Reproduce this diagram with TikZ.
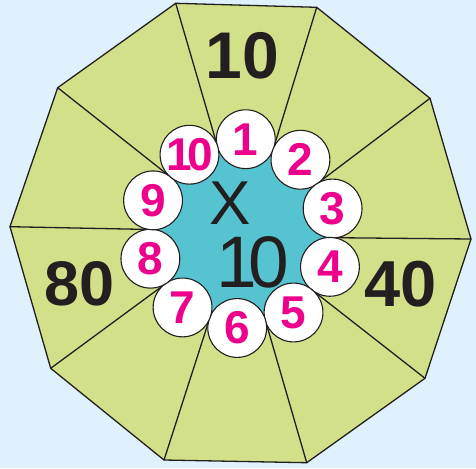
\documentclass[tikz,border=0pt]{standalone}
\usepackage{fontspec}
\setmainfont{Liberation Sans}
\usetikzlibrary{calc}
\definecolor{bgc}{RGB}{223,241,252}
\definecolor{leaf}{RGB}{210,224,138}
\definecolor{cyanc}{RGB}{86,196,208}
\definecolor{magc}{RGB}{236,0,140}
\definecolor{ink}{RGB}{35,31,32}
\tikzset{
  edge/.style={draw=ink,line width=1.3pt,line join=round,line cap=round},
  numcirc/.style={circle,draw=ink,line width=1.1pt,fill=white,inner sep=0pt,
    minimum size=58.8pt,text=magc,font=\bfseries\fontsize{46}{46}\selectfont},
  biglabel/.style={inner sep=0pt,text=ink,font=\bfseries\fontsize{65}{65}\selectfont},
  midlabel/.style={inner sep=0pt,text=ink}
}
\begin{document}
\begin{tikzpicture}[x=1pt,y=-1pt]
\fill[bgc] (0,0) rectangle (476,468);
\useasboundingbox (0,0) rectangle (476,468);
\coordinate (C) at (241.5,233.6);
\coordinate (O1) at (175.7,3.3);
\coordinate (O2) at (316.7,7.3);
\coordinate (O3) at (430,98.3);
\coordinate (O4) at (471,239);
\coordinate (O5) at (425,378.3);
\coordinate (O6) at (306.7,462.7);
\coordinate (O7) at (164,460);
\coordinate (O8) at (50.7,368.3);
\coordinate (O9) at (10,226.7);
\coordinate (O10) at (57.7,87.7);
\fill[leaf] (O1)--(O2)--(O3)--(O4)--(O5)--(O6)--(O7)--(O8)--(O9)--(O10)--cycle;
\draw[edge] (O1)--(O2)--(O3)--(O4)--(O5)--(O6)--(O7)--(O8)--(O9)--(O10)--cycle;
\foreach \k in {1,...,10}{
  \coordinate (p\k) at ($(C)+({105.4-36*(\k-1)}:89.9pt)$);
}
\foreach \k in {1,...,10}{
  \draw[edge] (O\k) -- (p\k);
}
\fill[cyanc] (p1)--(p2)--(p3)--(p4)--(p5)--(p6)--(p7)--(p8)--(p9)--(p10)--cycle;
\foreach \k in {1,...,9}{
  \node[numcirc] (c\k) at ($(C)+({87.4-36*(\k-1)}:94.5pt)$) {\k};
}
\node[numcirc] (c10) at ($(C)+({87.4-36*9}:94.5pt)$) {1\kern-0.1em 0};
\node[midlabel,font=\fontsize{62}{62}\selectfont] (times) at (230,203) {X};
\node[midlabel,font=\fontsize{73}{73}\selectfont] (ten) at (253,262) {1\kern-0.12em 0};
\node[biglabel,font=\bfseries\fontsize{66}{66}\selectfont] (l10) at (242.7,55.5) {10};
\node[biglabel] (l40) at (400.5,284) {40};
\node[biglabel,font=\bfseries\fontsize{63}{63}\selectfont] (l80) at (80,284) {80};
\end{tikzpicture}
\end{document}
